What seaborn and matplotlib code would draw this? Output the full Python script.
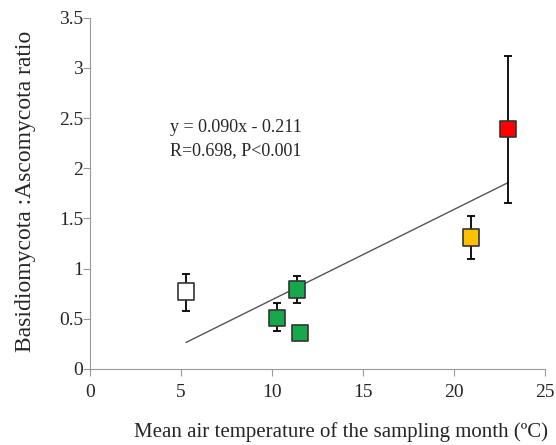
import matplotlib
matplotlib.use("Agg")
import matplotlib.pyplot as plt
import seaborn as sns
import numpy as np
import pandas as pd

# ---data---
temp = [5.27, 10.27, 11.37, 11.54, 20.93, 22.97]
ratio = [0.77, 0.51, 0.79, 0.36, 1.31, 2.39]
err_up = [0.18, 0.15, 0.14, 0.02, 0.21, 0.73]
err_down = [0.19, 0.13, 0.13, 0.02, 0.21, 0.74]
group = ["white", "green", "green", "green", "yellow", "red"]
slope, intercept = 0.090, -0.211

palette = {"white": "#FFFFFF", "green": "#16A84A", "yellow": "#FFC000", "red": "#FF0000"}

df = pd.DataFrame({"temp": temp, "ratio": ratio, "group": group})

sns.set_style("white")
plt.rcParams["font.family"] = ["Liberation Serif", "DejaVu Serif"]

fig = plt.figure(figsize=(5.56, 4.45), dpi=100)
ax = fig.add_axes([0.162, 0.171, 0.818, 0.789])

# trend line
xl = np.array([min(temp), max(temp)])
fit = pd.DataFrame({"temp": xl, "ratio": slope * xl + intercept})
sns.lineplot(data=fit, x="temp", y="ratio", color="#555555", lw=1.0, ax=ax, zorder=1)

ax.errorbar(temp, ratio, yerr=[err_down, err_up], fmt="none", ecolor="black",
            elinewidth=1.3, capsize=3, capthick=1.3, zorder=2)
sns.scatterplot(data=df, x="temp", y="ratio", hue="group", palette=palette,
                marker="s", s=140, edgecolor="#333333", linewidth=1.2,
                legend=False, ax=ax, zorder=3)

ax.text(4.4, 2.41, "y = 0.090x - 0.211", fontsize=13, va="center")
ax.text(4.4, 2.18, "R=0.698, P<0.001", fontsize=13, va="center")

ax.set_xlim(0, 25)
ax.set_ylim(0, 3.5)
ax.set_xticks([0, 5, 10, 15, 20, 25])
ax.set_xticklabels(["0", "5", "10", "15", "20", "25"])
ax.set_yticks([0, 0.5, 1, 1.5, 2, 2.5, 3, 3.5])
ax.set_yticklabels(["0", "0.5", "1", "1.5", "2", "2.5", "3", "3.5"])
ax.tick_params(axis="both", labelsize=14, length=5, width=0.8, color="#999999",
               bottom=True, left=True, direction="out")
ax.tick_params(axis="x", pad=6)
ax.tick_params(axis="y", pad=0)
for side in ["top", "right"]:
    ax.spines[side].set_visible(False)
for side in ["left", "bottom"]:
    ax.spines[side].set_color("#999999")
    ax.spines[side].set_linewidth(0.8)

ax.set_xlabel("Mean air temperature of the sampling month (ºC)", fontsize=15)
ax.xaxis.set_label_coords(0.552, -0.152)
ax.set_ylabel("Basidiomycota :Ascomycota ratio", fontsize=17)
ax.yaxis.set_label_coords(-0.118, 0.505)

fig.savefig("out.png", dpi=100)
